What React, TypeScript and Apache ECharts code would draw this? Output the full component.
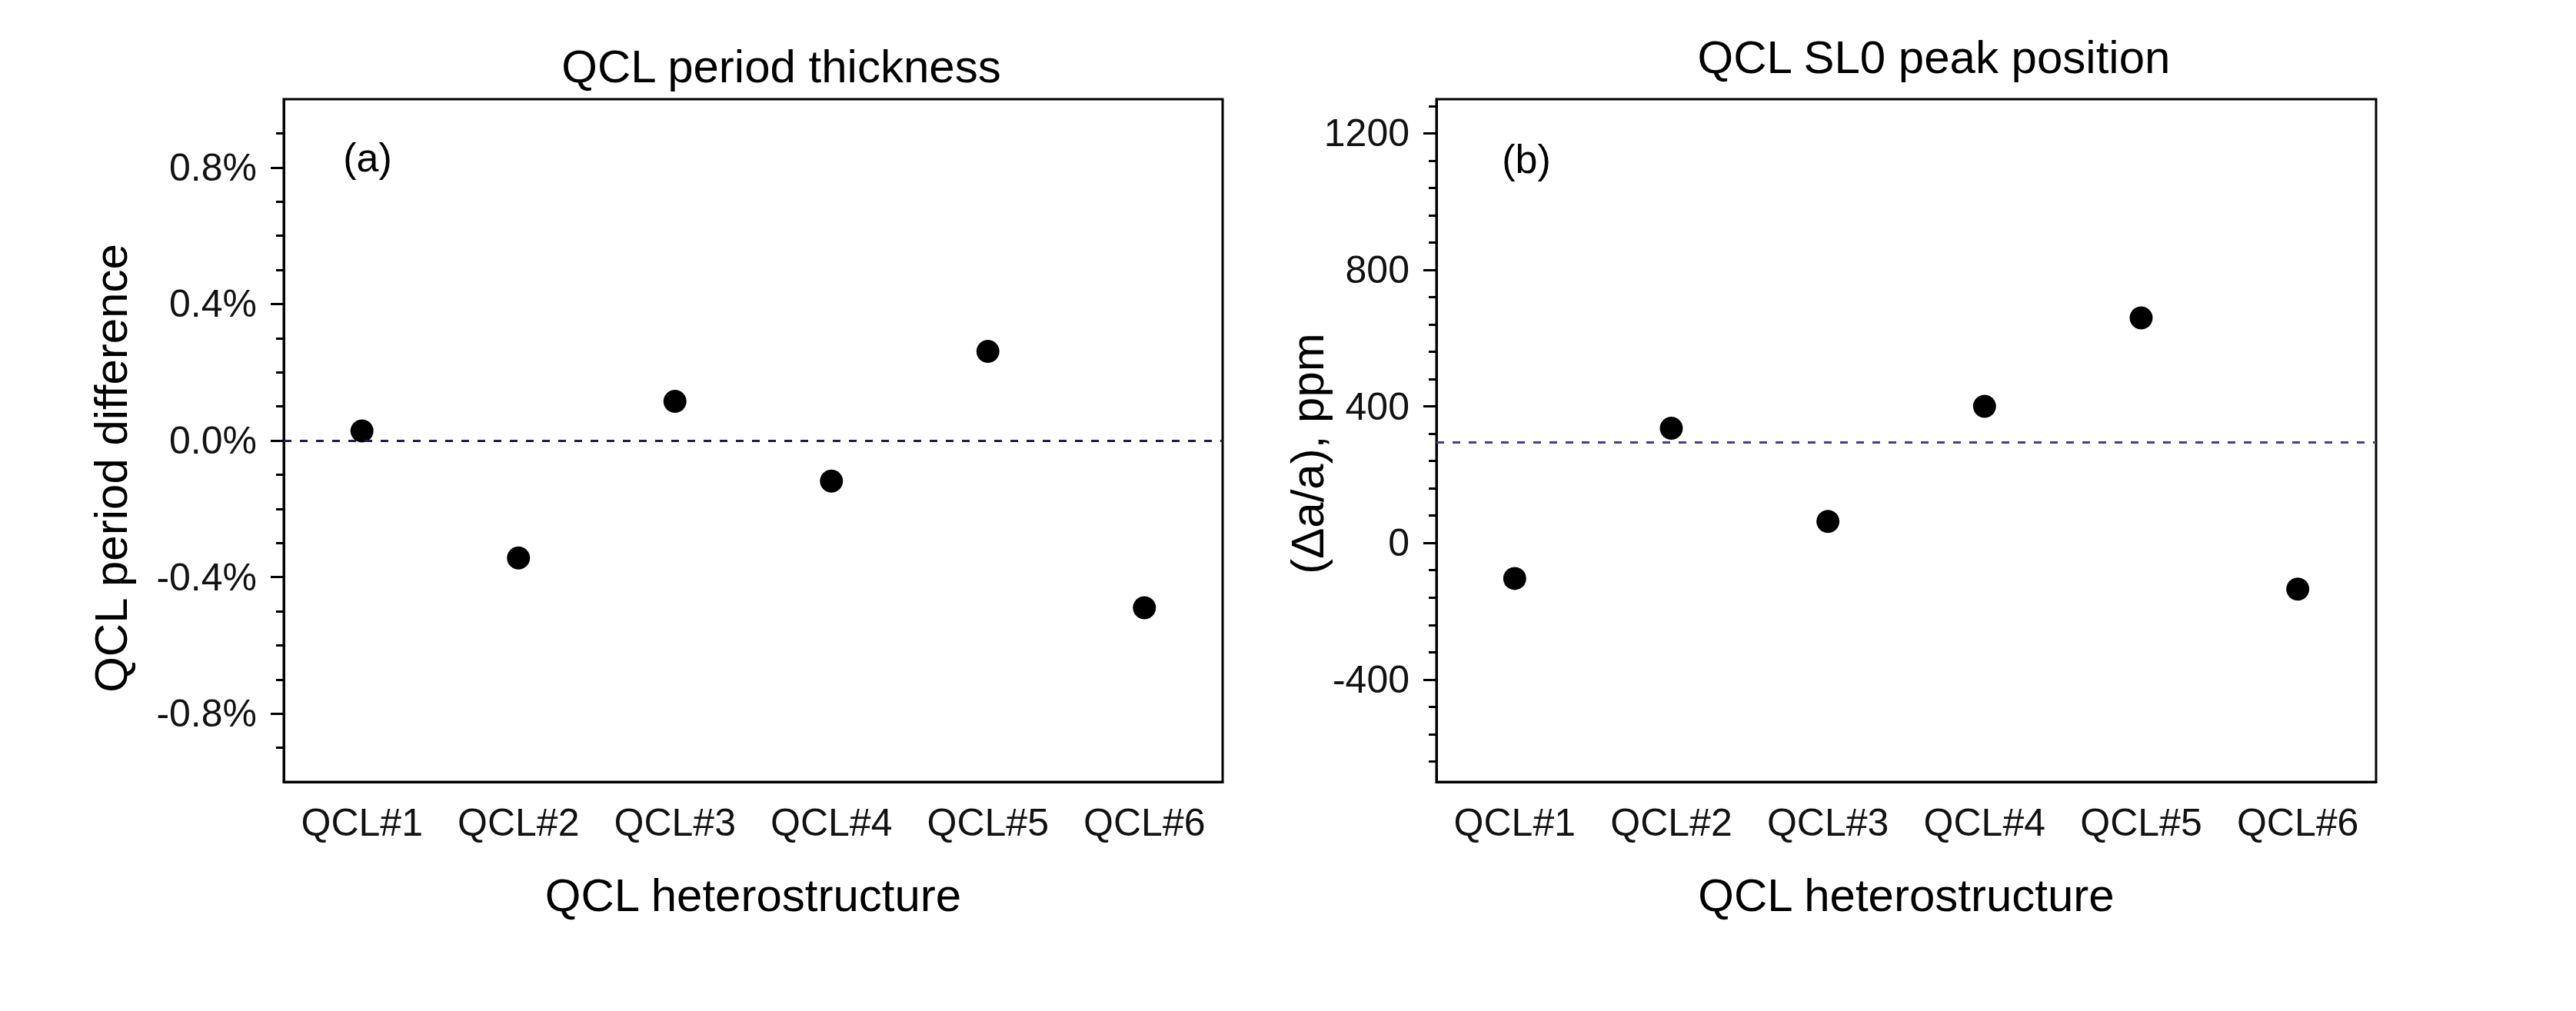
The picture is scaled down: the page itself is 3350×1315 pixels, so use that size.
import React, { useEffect, useRef } from 'react';
import * as echarts from 'echarts';

const categories = ['QCL#1', 'QCL#2', 'QCL#3', 'QCL#4', 'QCL#5', 'QCL#6'];
const periodDifference = [0.028, -0.344, 0.115, -0.119, 0.261, -0.49];
const peakPosition = [-104, 336, 63, 400, 659, -135];
const periodReference = 0;
const peakReference = 295;

const periodMajorTicks = [-0.8, -0.4, 0, 0.4, 0.8];
const periodMinorTicks = [-0.9, -0.7, -0.6, -0.5, -0.3, -0.2, -0.1, 0.1, 0.2, 0.3, 0.5, 0.6, 0.7, 0.9];
const peakMajorTicks = [-400, 0, 400, 800, 1200];
const peakMinorTicks = [-640, -560, -480, -320, -240, -160, -80, 80, 160, 240, 320, 480, 560, 640, 720, 880, 960, 1040, 1120, 1280];

const FONT = '"Liberation Sans", Arial, Helvetica, sans-serif';

function buildOption() {
  const grids = [
    { left: 369, top: 129, width: 1221, height: 888 },
    { left: 1868, top: 129, width: 1222, height: 888 },
  ];
  const lineStyle = { color: '#000', width: 3 };

  const xAxes: any[] = [];
  const yAxes: any[] = [];
  grids.forEach((_, gi) => {
    xAxes.push({
      type: 'category', gridIndex: gi, data: categories, position: 'bottom', boundaryGap: true,
      name: 'QCL heterostructure', nameLocation: 'middle', nameGap: 117,
      nameTextStyle: { fontSize: 60, fontFamily: FONT, color: '#000' },
      axisLine: { onZero: false, lineStyle },
      axisTick: { alignWithLabel: true, interval: 0, length: 18, lineStyle },
      axisLabel: { interval: 0, fontSize: 50, fontFamily: FONT, color: '#111', margin: 28 },
      splitLine: { show: false },
    });
    xAxes.push({
      type: 'category', gridIndex: gi, data: categories, position: 'bottom', boundaryGap: true,
      axisLine: { show: false, onZero: false },
      axisTick: { interval: 0, length: 9, lineStyle },
      axisLabel: { show: false },
      splitLine: { show: false },
    });
  });

  const yDefs = [
    { min: -1, max: 1, major: periodMajorTicks, minor: periodMinorTicks, fmt: (v: number) => v.toFixed(1) + '%' },
    { min: -700, max: 1300, major: peakMajorTicks, minor: peakMinorTicks, fmt: (v: number) => String(v) },
  ];
  yDefs.forEach((d, gi) => {
    yAxes.push({
      type: 'value', gridIndex: gi, position: 'left', min: d.min, max: d.max,
      axisLine: { show: true, onZero: false, lineStyle },
      axisTick: { show: true, length: 17, lineStyle, customValues: d.major },
      axisLabel: { fontSize: 50, fontFamily: FONT, color: '#111', margin: 35, customValues: d.major, formatter: d.fmt },
      splitLine: { show: false },
    });
    yAxes.push({
      type: 'value', gridIndex: gi, position: 'left', min: d.min, max: d.max,
      axisLine: { show: false, onZero: false },
      axisTick: { show: true, length: 10, lineStyle, customValues: d.minor },
      axisLabel: { show: false },
      splitLine: { show: false },
    });
  });

  const markLine = (value: number, color: string) => ({
    silent: true,
    symbol: ['none', 'none'],
    label: { show: false },
    lineStyle: { type: [10, 11], color, width: 3, opacity: 1 },
    data: [{ yAxis: value }],
  });

  const text = (t: string, x: number, y: number, size: number, rotation = 0) => ({
    type: 'text', x, y, rotation,
    style: { text: t, fontSize: size, fontFamily: FONT, fill: '#000', align: 'center', verticalAlign: 'middle' },
  });

  return {
    animation: false,
    backgroundColor: '#fff',
    grid: grids.map((g) => ({ ...g, show: true, borderColor: '#000', borderWidth: 3, backgroundColor: 'transparent', containLabel: false })),
    xAxis: xAxes,
    yAxis: yAxes,
    series: [
      {
        type: 'scatter', xAxisIndex: 0, yAxisIndex: 0,
        data: periodDifference,
        symbol: 'circle', symbolSize: 30,
        itemStyle: { color: '#000', opacity: 1 },
        markLine: markLine(periodReference, '#1c1c44'),
      },
      {
        type: 'scatter', xAxisIndex: 2, yAxisIndex: 2,
        data: peakPosition,
        symbol: 'circle', symbolSize: 30,
        itemStyle: { color: '#000', opacity: 1 },
        markLine: markLine(peakReference, '#4e3a86'),
      },
    ],
    graphic: [
      text('QCL period thickness', 1016, 86, 60),
      text('QCL SL0 peak position', 2515, 74, 60),
      text('QCL period difference', 144, 609, 60, Math.PI / 2),
      text('(Δa/a), ppm', 1700, 590, 60, Math.PI / 2),
      text('(a)', 478, 205, 52),
      text('(b)', 1985, 207, 52),
    ],
  };
}

export default function App() {
  const ref = useRef<HTMLDivElement>(null);
  useEffect(() => {
    if (!ref.current) return;
    const chart = echarts.init(ref.current, null, { renderer: 'svg' });
    chart.setOption(buildOption() as any);
    return () => chart.dispose();
  }, []);
  return (
    <div
      ref={ref}
      style={{ position: 'fixed', left: 0, top: 0, width: 3350, height: 1315, background: '#fff' }}
    />
  );
}
